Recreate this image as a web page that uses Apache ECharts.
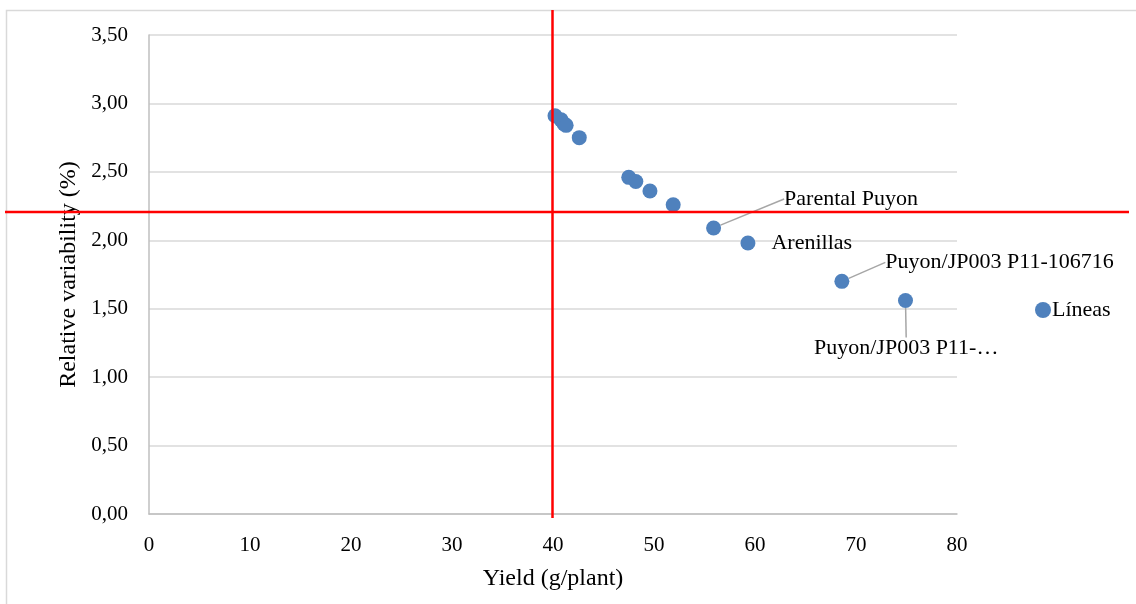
<!DOCTYPE html>
<html>
<head>
<meta charset="utf-8">
<script src="https://cdn.jsdelivr.net/npm/echarts@6/dist/echarts.min.js"></script>
<style>
html, body { margin: 0; padding: 0; background: #fff; }
#chartmain { width: 1136px; height: 604px; }
</style>
</head>
<body>
<div id="chartmain"></div>
<script>
// data
var xValues = [40.2, 40.8, 41.1, 41.3, 42.6, 47.5, 48.2, 49.6, 51.9, 55.9, 59.3, 68.6, 74.9];
var yValues = [2.91, 2.88, 2.85, 2.84, 2.75, 2.46, 2.43, 2.36, 2.26, 2.09, 1.98, 1.70, 1.56];
var pointNames = ['', '', '', '', '', '', '', '', '', 'Parental Puyon', 'Arenillas',
    'Puyon/JP003 P11-106716', 'Puyon/JP003 P11-…'];
var seriesName = 'Líneas';
var refX = 40;
var refY = 2.207;

var FONT = '"Liberation Serif", "DejaVu Serif", serif';

// label shifts (px) from the default right-hand position, and leader line on/off
var labelShift = {
    'Parental Puyon': [58, -29, true],
    'Arenillas': [11, 0, false],
    'Puyon/JP003 P11-106716': [31, -19, true],
    'Puyon/JP003 P11-…': [-104, 48, true]
};

var chart = echarts.init(document.getElementById('chartmain'));

var points = xValues.map(function (x, i) {
    var n = pointNames[i];
    var item = { name: n, value: [x, yValues[i]] };
    if (!n) {
        item.label = { show: false };
        item.labelLine = { show: false };
    } else if (!labelShift[n][2]) {
        item.labelLine = { show: false };
    }
    return item;
});

function comma(v) { return v.toFixed(2).replace('.', ','); }

option = {
    animation: false,
    grid: { left: 149, right: 179, top: 35, bottom: 90 },
    legend: {
        data: [seriesName],
        left: 1030,
        top: 294,
        itemWidth: 16,
        itemHeight: 16,
        itemGap: 2,
        textStyle: { fontFamily: FONT, fontSize: 22, color: '#000', padding: [0, 0, 0, -4] }
    },
    xAxis: {
        type: 'value',
        min: 0, max: 80, interval: 10,
        name: 'Yield (g/plant)',
        nameLocation: 'middle',
        nameGap: 53,
        nameTextStyle: { fontFamily: FONT, fontSize: 24, color: '#000' },
        axisLine: { show: true, lineStyle: { color: '#bfbfbf', width: 1.5 } },
        axisTick: { show: false },
        splitLine: { show: false },
        axisLabel: { fontFamily: FONT, fontSize: 21, color: '#000', margin: 21 }
    },
    yAxis: {
        type: 'value',
        min: 0, max: 3.5, interval: 0.5,
        name: 'Relative variability (%)',
        nameLocation: 'middle',
        nameGap: 66,
        nameTextStyle: { fontFamily: FONT, fontSize: 24, color: '#000' },
        axisLine: { show: true, lineStyle: { color: '#bfbfbf', width: 1.5 } },
        axisTick: { show: false },
        splitLine: { lineStyle: { color: '#d9d9d9', width: 1.5 } },
        axisLabel: { fontFamily: FONT, fontSize: 21, color: '#000', margin: 21, formatter: comma }
    },
    series: [{
        name: seriesName,
        type: 'scatter',
        symbolSize: 15,
        itemStyle: { color: '#4f81bd', opacity: 1 },
        data: points,
        label: {
            show: true,
            position: 'right',
            distance: 5,
            formatter: '{b}',
            fontFamily: FONT,
            fontSize: 22,
            color: '#000'
        },
        labelLine: {
            show: true,
            lineStyle: { color: '#a6a6a6', width: 1.5 }
        },
        labelLayout: function (p) {
            var s = labelShift[pointNames[p.dataIndex]];
            return s ? { dx: s[0], dy: s[1] } : {};
        },
        emphasis: { disabled: true }
    }]
};

chart.setOption(option);

// outer border and red reference lines placed through the chart's own scales
var px = chart.convertToPixel({ gridIndex: 0 }, [refX, refY]);
chart.setOption({
    graphic: [
        { type: 'rect', shape: { x: 6.5, y: 10.5, width: 1140, height: 600 },
          style: { fill: null, stroke: '#d9d9d9', lineWidth: 1.5 }, silent: true },
        { type: 'line', shape: { x1: 5, y1: px[1], x2: 1129, y2: px[1] },
          style: { stroke: '#ff0000', lineWidth: 2.5 }, z: 10, silent: true },
        { type: 'line', shape: { x1: px[0] - 0.5, y1: 10, x2: px[0] - 0.5, y2: 518 },
          style: { stroke: '#ff0000', lineWidth: 2.5 }, z: 10, silent: true }
    ]
});
</script>
</body>
</html>
